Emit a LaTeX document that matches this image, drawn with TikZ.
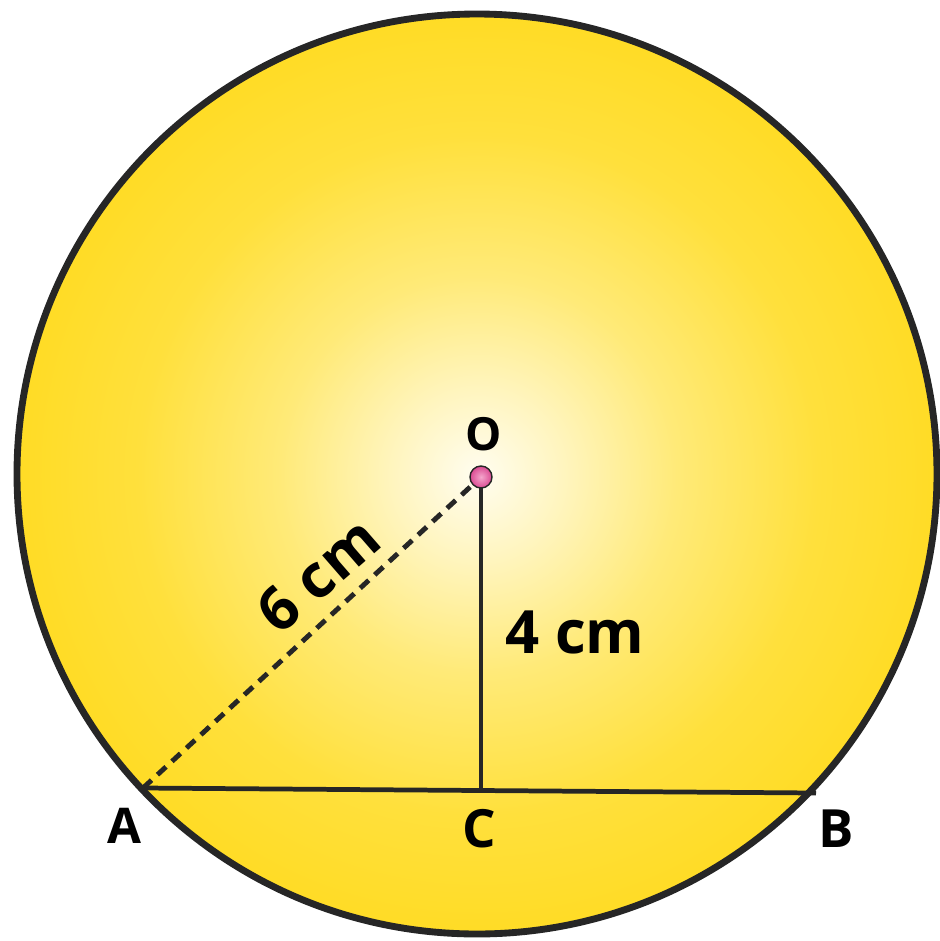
\documentclass[tikz,border=0pt]{standalone}
\usepackage{fontspec}
\setmainfont{Open Sans}
\definecolor{shA}{HTML}{FFFDF0}
\definecolor{shB}{HTML}{FFF5BF}
\definecolor{shC}{HTML}{FFEA78}
\definecolor{shD}{HTML}{FFE03C}
\definecolor{shE}{HTML}{FFDB22}
\definecolor{shF}{HTML}{FDD817}
\definecolor{inkc}{HTML}{262626}
\definecolor{pinkin}{HTML}{F4A6CC}
\definecolor{pinkout}{HTML}{DA4A92}
\pgfdeclareradialshading{discshade}{\pgfpoint{0bp}{0bp}}{color(0bp)=(shA); color(4.6bp)=(shB); color(10.8bp)=(shC); color(18.5bp)=(shD); color(26bp)=(shE); color(35.4bp)=(shF); color(50bp)=(shF)}
\begin{document}
\begin{tikzpicture}[x=0.02cm,y=-0.02cm,
  seg/.style={draw=inkc, line width=2.7pt},
  dashseg/.style={draw=inkc, line width=2.8pt, dash pattern=on 6.6pt off 4.6pt},
  rim/.style={draw=inkc, line width=3.9pt},
  dot/.style={circle, draw=inkc, line width=0.8pt, inner sep=0pt, minimum size=0.44cm, inner color=pinkin, outer color=pinkout},
  lab/.style={font=\bfseries, text=black, inner sep=0pt}]
\useasboundingbox (0,0) rectangle (940,941);
\path[shading=discshade] (478,475) circle[radius=460];
\coordinate (A) at (143,788);
\coordinate (B) at (816,793);
\coordinate (C) at (481,790);
\coordinate (O) at (481,477);
\draw[seg] (A) -- (B);
\draw[seg] (O) -- (C);
\draw[dashseg] (A) -- (O);
\draw[rim] (477,474) circle[radius=460];
\node[dot] (Odot) at (O) {};
\node[lab, font=\bfseries\fontsize{26}{30}\selectfont] (lO) at (484,434) {O};
\node[lab, font=\bfseries\fontsize{28}{32}\selectfont] (lA) at (124,826) {A};
\node[lab, font=\bfseries\fontsize{30}{34}\selectfont] (lB) at (836,829) {B};
\node[lab, font=\bfseries\fontsize{30}{34}\selectfont] (lC) at (479,829) {C};
\node[lab, font=\bfseries\fontsize{34}{38}\selectfont] (l4) at (575,632) {4 cm};
\node[lab, font=\bfseries\fontsize{34}{38}\selectfont, rotate=41] (l6) at (318,575) {6 cm};
\end{tikzpicture}
\end{document}
